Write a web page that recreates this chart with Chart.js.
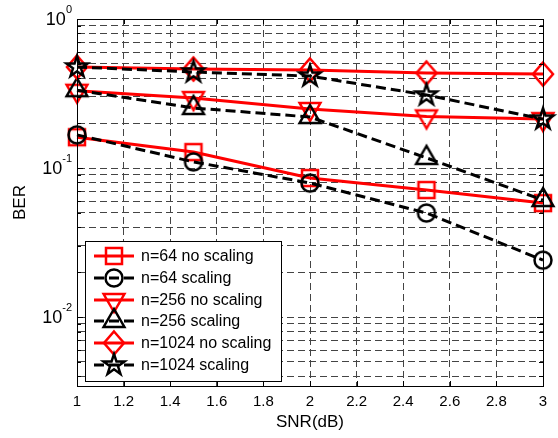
<!DOCTYPE html>
<html>
<head>
<meta charset="utf-8">
<script src="https://cdn.jsdelivr.net/npm/chart.js@4.4.1/dist/chart.umd.min.js"></script>
<style>
  html, body { margin: 0; padding: 0; background: #fff; }
  #wrap { width: 558px; height: 438px; position: relative; }
</style>
</head>
<body>
<div id="wrap"><canvas id="c" width="558" height="438"></canvas></div>
<script>
// ---- data ----
const snr = [1, 1.5, 2, 2.5, 3];
const n64NoScaling   = [0.161, 0.128, 0.0857, 0.0712, 0.0582];
const n64Scaling     = [0.167, 0.110, 0.0793, 0.0499, 0.0241];
const n256NoScaling  = [0.330, 0.295, 0.249, 0.222, 0.213];
const n256Scaling    = [0.333, 0.253, 0.220, 0.117, 0.061];
const n1024NoScaling = [0.476, 0.462, 0.455, 0.434, 0.427];
const n1024Scaling   = [0.476, 0.441, 0.414, 0.309, 0.213];
const seriesNames = ['n=64 no scaling', 'n=64 scaling', 'n=256 no scaling',
                     'n=256 scaling', 'n=1024 no scaling', 'n=1024 scaling'];

const xTickValues = [1, 1.2, 1.4, 1.6, 1.8, 2, 2.2, 2.4, 2.6, 2.8, 3];
const xTickLabels = ['1', '1.2', '1.4', '1.6', '1.8', '2', '2.2', '2.4', '2.6', '2.8', '3'];
const yTickValues = [0.004, 0.005, 0.006, 0.007, 0.008, 0.009,
                     0.01, 0.02, 0.03, 0.04, 0.05, 0.06, 0.07, 0.08, 0.09,
                     0.1, 0.2, 0.3, 0.4, 0.5, 0.6, 0.7, 0.8, 0.9, 1];
const yMajorValues = [0.01, 0.1, 1];
const yMajorBase = ['10', '10', '10'];
const yMajorExp = ['-2', '-1', '0'];
const yMin = 0.00345, yMax = 1;

// ---- markers ----
const RED = '#ff0000', BLACK = '#000000';
function makeMarker(shape, color) {
  const S = 32, c = S / 2;
  const cv = document.createElement('canvas');
  cv.width = S; cv.height = S;
  const g = cv.getContext('2d');
  g.strokeStyle = color; g.lineWidth = 2.5; g.lineJoin = 'miter';
  g.beginPath();
  if (shape === 'square') {
    g.rect(c - 8, c - 8, 16, 16);
  } else if (shape === 'circle') {
    g.arc(c, c, 8.5, 0, Math.PI * 2);
  } else if (shape === 'triDown' || shape === 'triUp') {
    const R = 12, s = shape === 'triDown' ? 1 : -1;
    g.moveTo(c, c + s * R);
    g.lineTo(c - R * 0.866, c - s * R / 2);
    g.lineTo(c + R * 0.866, c - s * R / 2);
    g.closePath();
  } else if (shape === 'diamond') {
    g.moveTo(c, c - 11.5); g.lineTo(c + 10, c); g.lineTo(c, c + 11.5); g.lineTo(c - 10, c);
    g.closePath();
  } else if (shape === 'star') {
    const R = 11, r = R * 0.382;
    for (let k = 0; k < 10; k++) {
      const ang = -Math.PI / 2 + k * Math.PI / 5;
      const rr = k % 2 === 0 ? R : r;
      const px = c + rr * Math.cos(ang), py = c + rr * Math.sin(ang);
      if (k === 0) g.moveTo(px, py); else g.lineTo(px, py);
    }
    g.closePath();
  }
  g.stroke();
  return cv;
}

const styles = [
  { color: RED,   dash: [],      marker: makeMarker('square', RED) },
  { color: BLACK, dash: [10, 5], marker: makeMarker('circle', BLACK) },
  { color: RED,   dash: [],      marker: makeMarker('triDown', RED) },
  { color: BLACK, dash: [10, 5], marker: makeMarker('triUp', BLACK) },
  { color: RED,   dash: [],      marker: makeMarker('diamond', RED) },
  { color: BLACK, dash: [10, 5], marker: makeMarker('star', BLACK) },
];
const seriesValues = [n64NoScaling, n64Scaling, n256NoScaling, n256Scaling, n1024NoScaling, n1024Scaling];

const datasets = seriesValues.map((vals, i) => ({
  label: seriesNames[i],
  data: snr.map((x, j) => ({ x: x, y: vals[j] })),
  borderColor: styles[i].color,
  borderWidth: 3,
  borderDash: styles[i].dash,
  pointStyle: styles[i].marker,
  pointRadius: 10,
  pointHoverRadius: 10,
  backgroundColor: 'rgba(0,0,0,0)',
  tension: 0,
  order: 10 - i,
  clip: false
}));

const FONT = "'Liberation Sans', Arial, Helvetica, sans-serif";

const framePlugin = {
  id: 'frame',
  afterDatasetsDraw(chart) {
    const { ctx, chartArea: a } = chart;
    const xs = chart.scales.x, ys = chart.scales.y;
    ctx.save();
    ctx.strokeStyle = '#000'; ctx.lineWidth = 1; ctx.setLineDash([]);
    ctx.strokeRect(Math.round(a.left) + 0.5, Math.round(a.top) + 0.5,
                   Math.round(a.right - a.left), Math.round(a.bottom - a.top));
    ctx.beginPath();
    xTickValues.forEach(v => {
      const px = Math.round(xs.getPixelForValue(v)) + 0.5;
      ctx.moveTo(px, a.bottom); ctx.lineTo(px, a.bottom - 5);
      ctx.moveTo(px, a.top); ctx.lineTo(px, a.top + 5);
    });
    yTickValues.forEach(v => {
      const py = Math.round(ys.getPixelForValue(v)) + 0.5;
      const len = yMajorValues.includes(v) ? 6 : 4;
      ctx.moveTo(a.left, py); ctx.lineTo(a.left + len, py);
      ctx.moveTo(a.right, py); ctx.lineTo(a.right - len, py);
    });
    ctx.stroke();
    // decade labels of the log axis (base + superscript exponent)
    ctx.fillStyle = '#000';
    ctx.textBaseline = 'middle';
    yMajorValues.forEach((v, k) => {
      const py = ys.getPixelForValue(v);
      ctx.font = '11px ' + FONT;
      const ew = ctx.measureText(yMajorExp[k]).width;
      const right = a.left - 5;
      ctx.textAlign = 'right';
      ctx.fillText(yMajorExp[k], right, py - 9);
      ctx.font = '18px ' + FONT;
      ctx.fillText(yMajorBase[k], right - ew, py + 1);
    });
    ctx.restore();
  },
  afterDraw(chart) {
    const { ctx } = chart;
    const bx = 85.5, by = 241.5, bw = 196, bh = 140;
    ctx.save();
    ctx.fillStyle = '#fff';
    ctx.fillRect(bx, by, bw, bh);
    ctx.strokeStyle = '#000'; ctx.lineWidth = 1; ctx.setLineDash([]);
    ctx.strokeRect(bx, by, bw, bh);
    ctx.font = '16px ' + FONT;
    ctx.textBaseline = 'middle';
    ctx.textAlign = 'left';
    const rowY0 = 256, rowDy = 21.8;
    styles.forEach((s, i) => {
      const y = Math.round(rowY0 + i * rowDy);
      ctx.save();
      ctx.strokeStyle = s.color; ctx.lineWidth = 3; ctx.setLineDash(s.dash);
      ctx.beginPath(); ctx.moveTo(94, y); ctx.lineTo(134, y); ctx.stroke();
      ctx.restore();
      ctx.drawImage(s.marker, 114 - s.marker.width / 2, y - s.marker.height / 2);
      ctx.fillStyle = '#000';
      ctx.fillText(seriesNames[i], 141, y + 1);
    });
    ctx.restore();
  }
};

new Chart(document.getElementById('c'), {
  type: 'line',
  data: { datasets },
  options: {
    responsive: false,
    animation: false,
    devicePixelRatio: 1,
    layout: { padding: { top: 19, right: 15, left: 0, bottom: 0 } },
    plugins: { legend: { display: false }, tooltip: { enabled: false } },
    scales: {
      x: {
        type: 'linear', min: 1, max: 3,
        afterBuildTicks: s => { s.ticks = xTickValues.map(v => ({ value: v })); },
        afterFit: s => { s.height = 52; },
        ticks: {
          callback: (v, i) => xTickLabels[i],
          color: '#000', font: { family: FONT, size: 15 }, padding: 7,
          maxRotation: 0, autoSkip: false
        },
        grid: { color: '#444', lineWidth: 1, drawTicks: false },
        border: { display: true, color: '#000', width: 1, dash: [7, 4] },
        title: { display: true, text: 'SNR(dB)', color: '#000',
                 font: { family: FONT, size: 17 }, padding: { bottom: 5, top: 0 } }
      },
      y: {
        type: 'logarithmic', min: yMin, max: yMax,
        afterBuildTicks: s => { s.ticks = yTickValues.map(v => ({ value: v, major: yMajorValues.includes(v) })); },
        afterFit: s => { s.width = 77; },
        ticks: { callback: () => '', autoSkip: false },
        grid: { color: '#444', lineWidth: 1, drawTicks: false },
        border: { display: true, color: '#000', width: 1, dash: [7, 4] },
        title: { display: true, text: 'BER', color: '#000',
                 font: { family: FONT, size: 17 }, padding: { top: 10, bottom: 0 } }
      }
    }
  },
  plugins: [framePlugin]
});
</script>
</body>
</html>
